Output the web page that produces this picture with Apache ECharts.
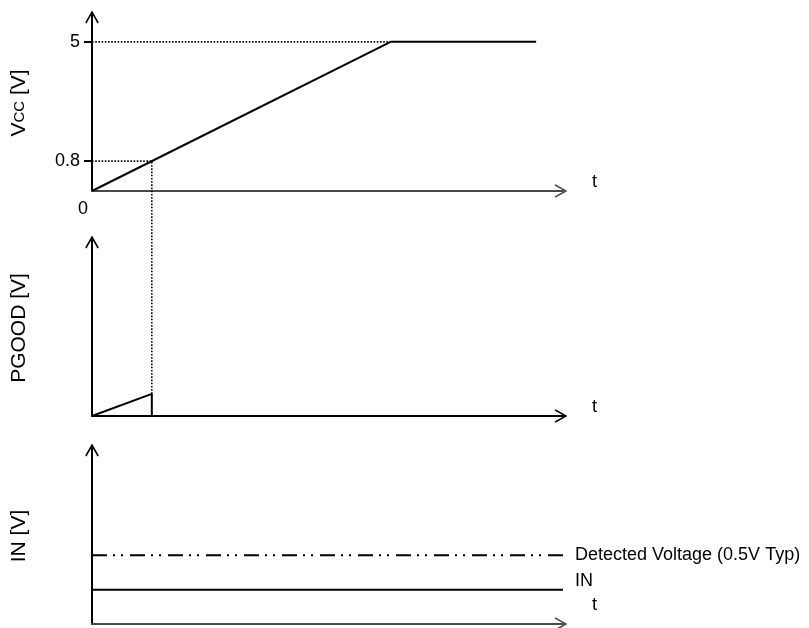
<!DOCTYPE html>
<html><head><meta charset="utf-8">
<script src="https://cdn.jsdelivr.net/npm/echarts@6/dist/echarts.min.js"></script>
<style>html,body{margin:0;padding:0;background:#fff}#c{width:809px;height:628px}</style>
</head><body><div id="c"></div>
<script>
// ---- data (schematic timing chart, time in arbitrary units 0..100) ----
const tMax = 100;
const vccTime = [0, 63.4, 94.3];
const vccVolts = [0, 5, 5];
const vccTickValues = [1.0, 5];        // schematic positions of the marked levels
const vccTickLabels = ['0.8', '5'];
const detectTime = 12.7;               // time when Vcc reaches the 0.8 V mark
const pgoodTime = [0, 12.7, 12.7];
const pgoodVolts = [0, 0.74, 0];
const inTime = [0, 100];
const inVolts = [0.25, 0.25];
const detectVolts = [0.5, 0.5];
const detectLabel = 'Detected Voltage (0.5V Typ)';
const inLabel = 'IN';

const FONT = 'Liberation Sans, Arial, sans-serif';
const ARROW = 'path://M5,0 L10,8.8 L9,9.5 L5,2.3 L1,9.5 L0,8.8 Z';

function xAx(gi, color, nameOpts, showZero) {
  return {
    type: 'value', gridIndex: gi, min: 0, max: tMax,
    splitLine: {show: false},
    axisTick: {show: false},
    axisLine: {onZero: false, symbol: ['none', ARROW], symbolSize: [15, 13], symbolOffset: [0, -2],
      lineStyle: {color: color, width: 2}},
    axisLabel: showZero ? {show: true, customValues: [0], formatter: () => '0',
      align: 'right', margin: 9, padding: [0, 4, 0, 0], color: '#000', fontSize: 18, fontFamily: FONT}
      : {show: false},
    name: 't', nameLocation: 'end', nameGap: 29,
    nameTextStyle: {color: '#000', fontSize: 18, fontFamily: FONT, verticalAlign: 'bottom',
      padding: [0, 0, nameOpts.lift, 0]}
  };
}
function yAx(gi, max, name, rich, ticks) {
  return {
    type: 'value', gridIndex: gi, min: 0, max: max,
    splitLine: {show: false},
    axisLine: {onZero: false, symbol: ['none', ARROW], symbolSize: [15, 13], symbolOffset: [0, -2],
      lineStyle: {color: '#000', width: 2}},
    axisTick: ticks ? {show: true, customValues: ticks, length: 8, lineStyle: {color: '#000', width: 2}} : {show: false},
    axisLabel: ticks ? {show: true, customValues: ticks, margin: 12, color: '#000', fontSize: 18, fontFamily: FONT,
      formatter: v => { const i = ticks.findIndex(t => Math.abs(t - v) < 1e-6); return i >= 0 ? vccTickLabels[i] : ''; }}
      : {show: false},
    name: name, nameLocation: 'middle', nameRotate: 90, nameGap: 62,
    nameTextStyle: {color: '#000', fontSize: 21, fontFamily: FONT, rich: rich}
  };
}
const pairs = (xs, ys) => xs.map((x, i) => [x, ys[i]]);
const solid = {color: '#000', width: 2};
const dotted = {color: '#000', width: 1.6, type: [1.6, 1.6]};

const option = {
  animation: false,
  backgroundColor: '#fff',
  grid: [
    {left: 92, width: 471, top: 15, height: 176},
    {left: 92, width: 471, top: 240, height: 176},
    {left: 92, width: 471, top: 448, height: 176}
  ],
  xAxis: [
    xAx(0, '#4a4a4a', {lift: 0}, true),
    xAx(1, '#000', {lift: 0}, false),
    xAx(2, '#4a4a4a', {lift: 10}, false)
  ],
  yAxis: [
    yAx(0, 5.9, '{a|V}{b|CC}{a| [V]}', {a: {fontSize: 21, fontFamily: FONT, color: '#000'}, b: {fontSize: 15, fontFamily: FONT, color: '#000'}}, vccTickValues),
    yAx(1, 5.9, 'PGOOD [V]', null, null),
    yAx(2, 1.28, 'IN [V]', null, null)
  ],
  series: [
    {type: 'line', xAxisIndex: 0, yAxisIndex: 0, symbol: 'none', lineStyle: dotted, z: 1,
      data: [[0, vccVolts[1]], [vccTime[1], vccVolts[1]]]},
    {type: 'line', xAxisIndex: 0, yAxisIndex: 0, symbol: 'none', lineStyle: dotted, z: 1,
      data: [[0, vccTickValues[0]], [detectTime, vccTickValues[0]]]},
    {type: 'line', xAxisIndex: 0, yAxisIndex: 0, symbol: 'none', lineStyle: solid, z: 3,
      data: pairs(vccTime, vccVolts)},
    {id: 'connector', type: 'line', xAxisIndex: 1, yAxisIndex: 1, symbol: 'none', lineStyle: dotted, z: 1, clip: false,
      data: [[detectTime, pgoodVolts[1]], [detectTime, pgoodVolts[1]]]},
    {type: 'line', xAxisIndex: 1, yAxisIndex: 1, symbol: 'none', lineStyle: solid, z: 3,
      data: pairs(pgoodTime, pgoodVolts)},
    {type: 'line', xAxisIndex: 2, yAxisIndex: 2, symbol: 'none', z: 3,
      lineStyle: {color: '#000', width: 2, type: [15, 6, 2, 6, 2, 7]},
      data: pairs(inTime, detectVolts),
      endLabel: {show: true, formatter: detectLabel, distance: 12, color: '#000', fontSize: 18, fontFamily: FONT}},
    {type: 'line', xAxisIndex: 2, yAxisIndex: 2, symbol: 'none', z: 3,
      lineStyle: {color: '#000', width: 2},
      data: pairs(inTime, inVolts),
      endLabel: {show: true, formatter: inLabel, distance: 12, offset: [0, -9], color: '#000', fontSize: 18, fontFamily: FONT}}
  ]
};
const chart = echarts.init(document.getElementById('c'), null, {renderer: 'canvas'});
chart.setOption(option);
// extend the dotted connector from PGOOD's step up to the 0.8 V mark on the Vcc ramp
const markPx = chart.convertToPixel({xAxisIndex: 0, yAxisIndex: 0}, [detectTime, vccTickValues[0]]);
const markInPgood = chart.convertFromPixel({xAxisIndex: 1, yAxisIndex: 1}, markPx);
chart.setOption({series: [{id: 'connector', data: [[detectTime, pgoodVolts[1]], [detectTime, markInPgood[1]]]}]});
</script></body></html>
